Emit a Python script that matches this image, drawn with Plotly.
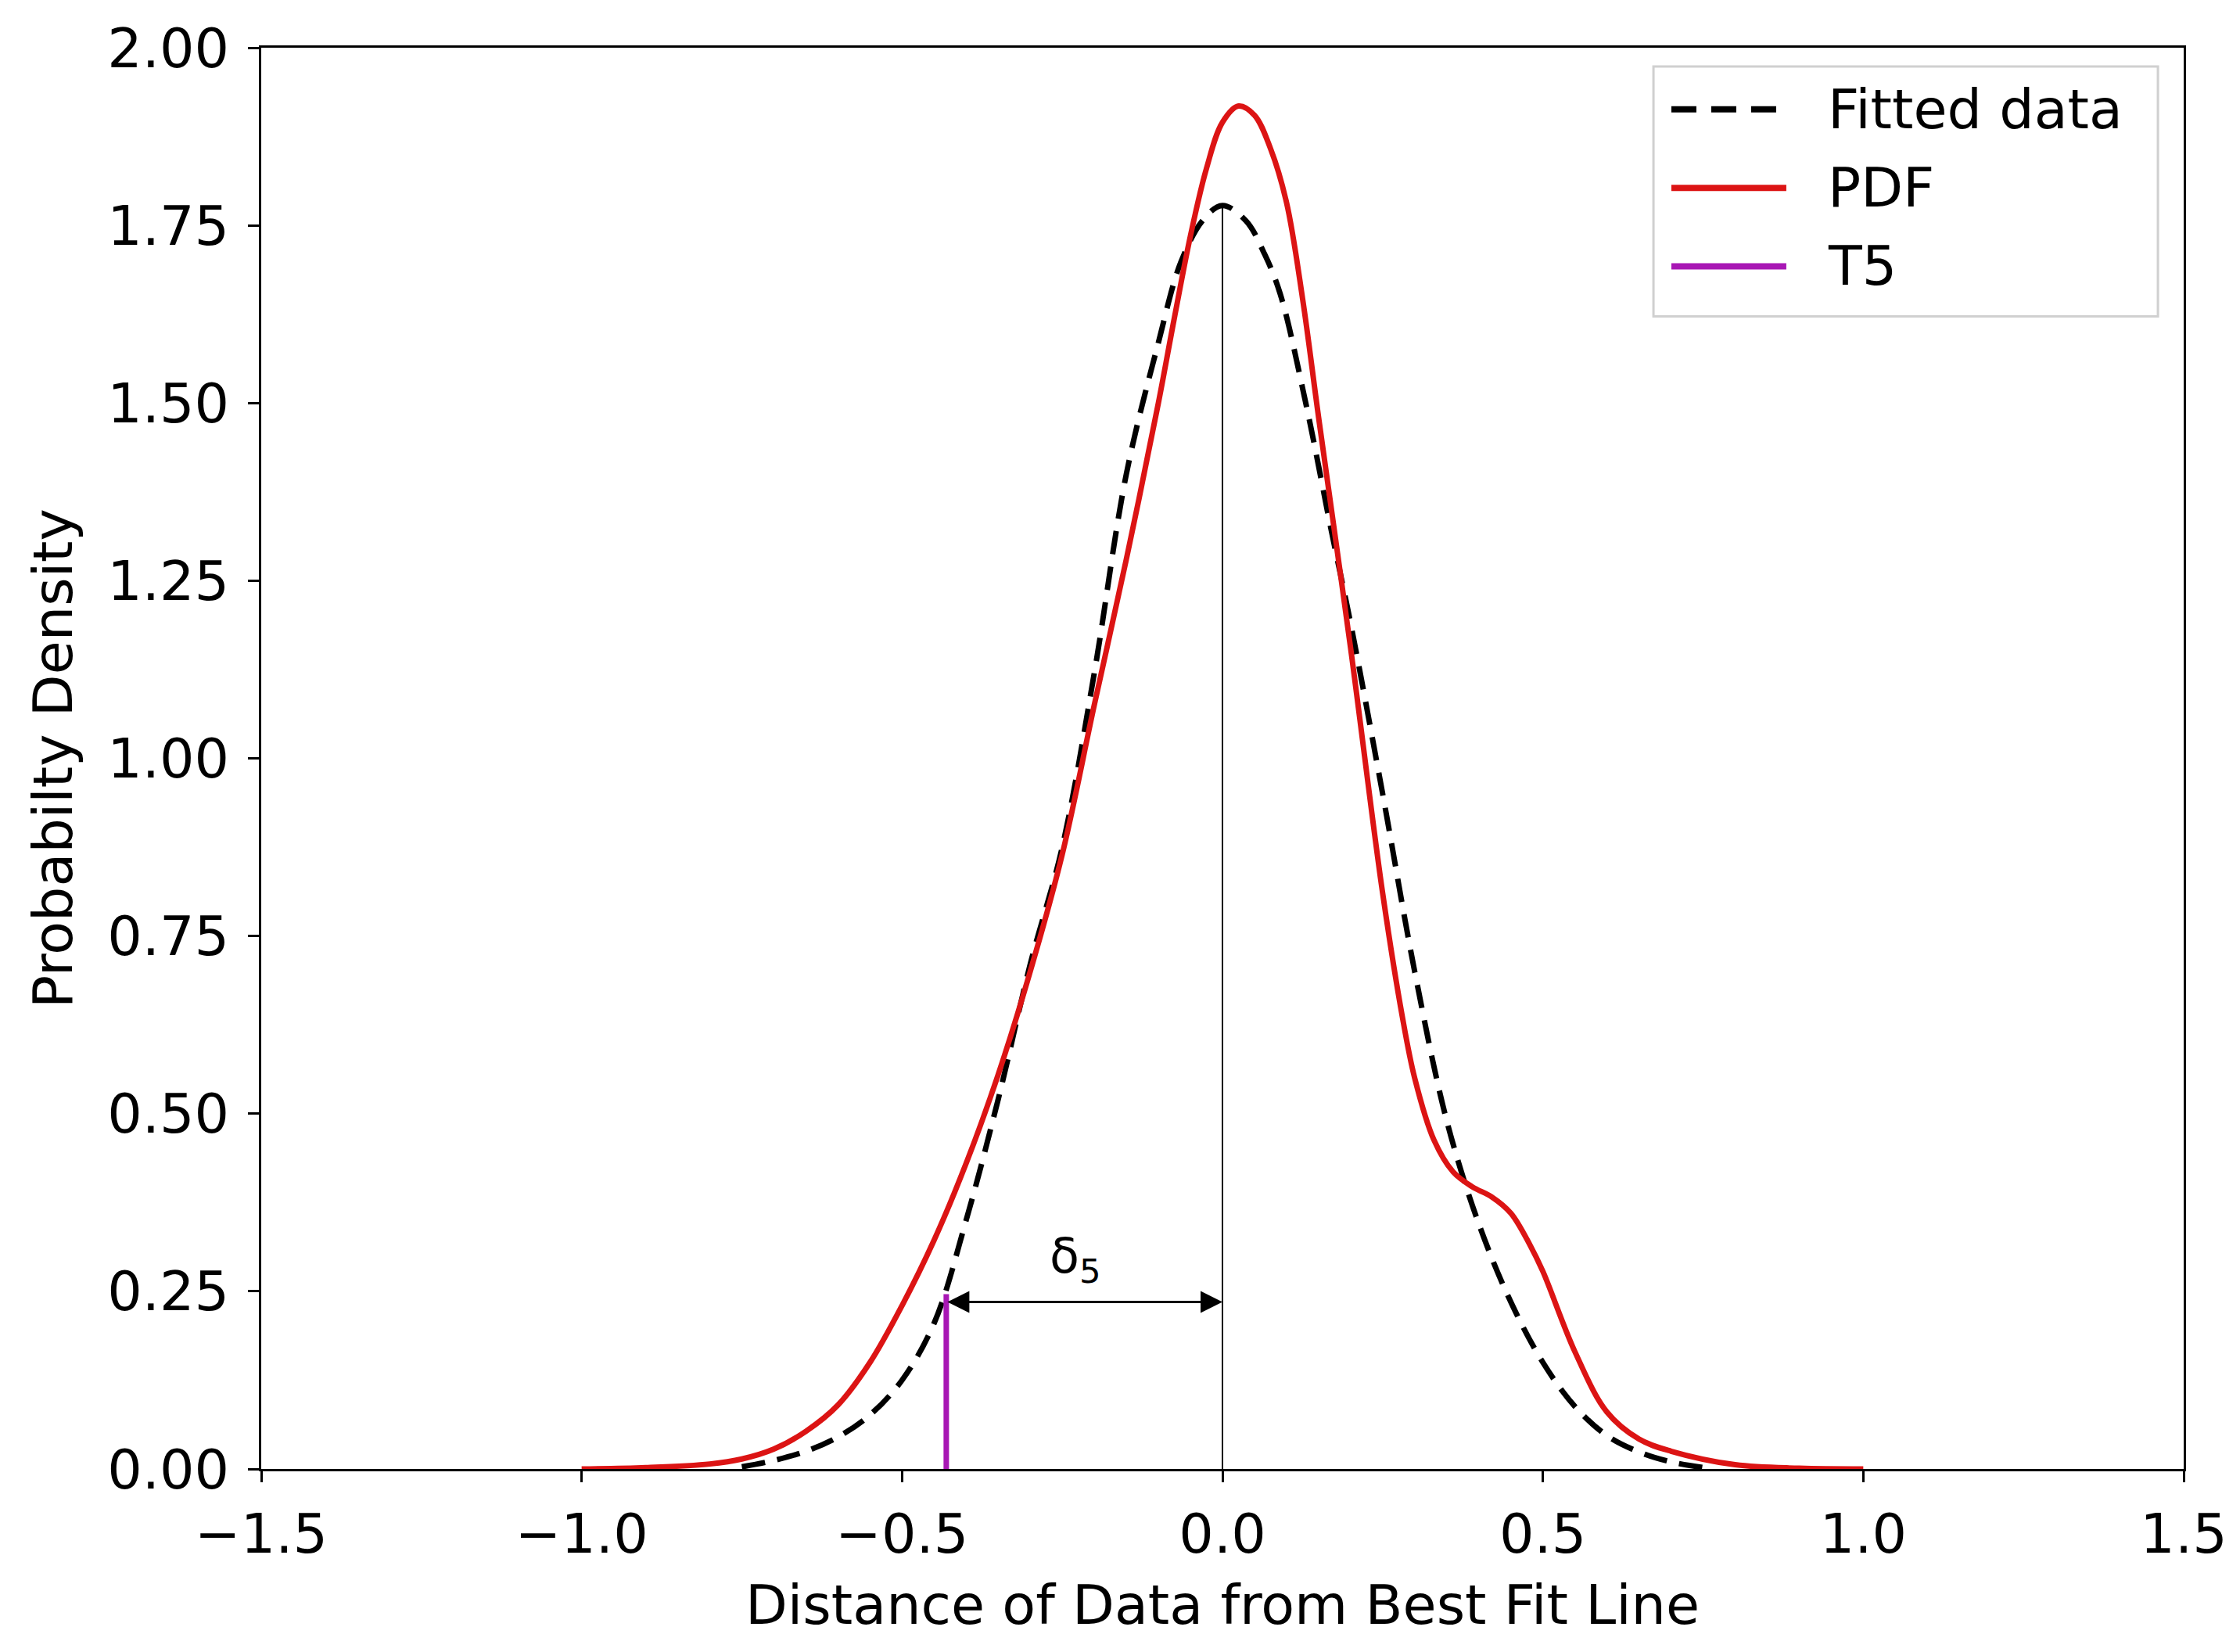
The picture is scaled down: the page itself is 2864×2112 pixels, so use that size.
import plotly.graph_objects as go

# values
pdf_x = [-1.0, -0.9, -0.8, -0.75, -0.7, -0.65, -0.6, -0.55, -0.5, -0.45, -0.4, -0.35,
         -0.3, -0.25, -0.2, -0.15, -0.1, -0.075, -0.05, -0.025, 0.0, 0.025, 0.05, 0.075,
         0.1, 0.125, 0.15, 0.2, 0.25, 0.28, 0.3, 0.33, 0.36, 0.39, 0.42, 0.45, 0.48, 0.5,
         0.55, 0.6, 0.65, 0.7, 0.8, 0.9, 1.0]
pdf_y = [0.0, 0.002, 0.007, 0.014, 0.028, 0.053, 0.090, 0.150, 0.230, 0.322, 0.43, 0.555,
         0.70, 0.865, 1.075, 1.28, 1.50, 1.62, 1.735, 1.83, 1.895, 1.918, 1.905, 1.858,
         1.782, 1.647, 1.48, 1.155, 0.81, 0.64, 0.55, 0.463, 0.418, 0.397, 0.383, 0.36,
         0.315, 0.278, 0.165, 0.08, 0.042, 0.025, 0.006, 0.001, 0.0]

fit_x = [-0.75, -0.7, -0.65, -0.6, -0.55, -0.5, -0.45, -0.4, -0.35, -0.3, -0.25, -0.2,
         -0.15, -0.1, -0.065, -0.03, 0.0, 0.037, 0.066, 0.09, 0.13, 0.17, 0.2, 0.25, 0.3,
         0.35, 0.4, 0.45, 0.5, 0.55, 0.6, 0.65, 0.7, 0.75]
fit_y = [0.003, 0.012, 0.025, 0.045, 0.076, 0.125, 0.205, 0.35, 0.52, 0.71, 0.875, 1.12,
         1.40, 1.585, 1.698, 1.758, 1.778, 1.756, 1.709, 1.654, 1.50, 1.32, 1.19, 0.95,
         0.70, 0.49, 0.345, 0.235, 0.15, 0.088, 0.047, 0.024, 0.01, 0.002]

t5_x = -0.431
t5_top = 0.246
peak_fit = 1.778
delta_y = 0.235

series_names = ["Fitted data", "PDF", "T5"]

x_ticks = [-1.5, -1.0, -0.5, 0.0, 0.5, 1.0, 1.5]
x_labels = ["\u22121.5", "\u22121.0", "\u22120.5", "0.0", "0.5", "1.0", "1.5"]
y_ticks = [0.0, 0.25, 0.5, 0.75, 1.0, 1.25, 1.5, 1.75, 2.0]
y_labels = ["0.00", "0.25", "0.50", "0.75", "1.00", "1.25", "1.50", "1.75", "2.00"]

RED = "#dc1414"
PURPLE = "#a817b4"
FONT = "DejaVu Sans"
FS = 70
DASH = "30px,16px"
LW = 7

fig = go.Figure()

# thin centre line at zero
fig.add_trace(go.Scatter(x=[0.0, 0.0], y=[0.0, peak_fit], mode="lines",
                         line=dict(color="black", width=2), showlegend=False,
                         hoverinfo="skip"))

fig.add_trace(go.Scatter(x=fit_x, y=fit_y, mode="lines", name=series_names[0],
                         line=dict(color="black", width=LW, dash=DASH,
                                   shape="spline", smoothing=1.0)))
fig.add_trace(go.Scatter(x=pdf_x, y=pdf_y, mode="lines", name=series_names[1],
                         line=dict(color=RED, width=LW, shape="spline", smoothing=1.0)))
fig.add_trace(go.Scatter(x=[t5_x, t5_x], y=[0.0, t5_top], mode="lines",
                         name=series_names[2], line=dict(color=PURPLE, width=LW)))

# double-headed arrow for delta_5
fig.add_annotation(x=0.0, y=delta_y, ax=t5_x, ay=delta_y, xref="x", yref="y",
                   axref="x", ayref="y", text="", showarrow=True,
                   arrowhead=2, startarrowhead=2, arrowside="end+start",
                   arrowwidth=2.8, arrowsize=2.0, startarrowsize=2.0,
                   arrowcolor="black", standoff=0, startstandoff=0)
fig.add_annotation(x=-0.23, y=delta_y + 0.06, xref="x", yref="y",
                   text="\u03b4<sub>5</sub>", showarrow=False,
                   font=dict(family=FONT, size=62, color="black"))

# legend box drawn by hand, matplotlib style
lg_x0, lg_x1, lg_y0, lg_y1 = 0.7242, 0.9866, 0.811, 0.9868
row_y = [0.9566, 0.9014, 0.8462]
line_x0, line_x1, text_x = 0.7335, 0.7933, 0.814
styles = [dict(color="black", width=LW + 1, dash="32px,19px"),
          dict(color=RED, width=LW + 1), dict(color=PURPLE, width=LW + 1)]
fig.add_shape(type="rect", xref="paper", yref="paper", x0=lg_x0, x1=lg_x1,
              y0=lg_y0, y1=lg_y1, line=dict(color="#d0d0d0", width=3),
              fillcolor="white", layer="above")
for name, ry, st in zip(series_names, row_y, styles):
    fig.add_shape(type="line", xref="paper", yref="paper", x0=line_x0, x1=line_x1,
                  y0=ry, y1=ry, line=st, layer="above")
    fig.add_annotation(x=text_x, y=ry, xref="paper", yref="paper", text=name,
                       showarrow=False, xanchor="left", yanchor="middle",
                       font=dict(family=FONT, size=FS, color="black"))

axis_common = dict(showline=True, linecolor="black", linewidth=3, mirror=True,
                   ticks="outside", ticklen=14, tickwidth=3, tickcolor="black",
                   showgrid=False, zeroline=False,
                   tickfont=dict(family=FONT, size=FS, color="black"))

fig.update_layout(
    width=2864, height=2112,
    margin=dict(l=326, r=80, t=50, b=242),
    plot_bgcolor="white", paper_bgcolor="white",
    showlegend=False,
    xaxis=dict(range=[-1.5, 1.5], tickvals=x_ticks, ticktext=x_labels,
               ticklabelstandoff=6,
               title=dict(text="Distance of Data from Best Fit Line", standoff=26,
                          font=dict(family=FONT, size=FS, color="black")),
               **axis_common),
    yaxis=dict(range=[0.0, 2.0], tickvals=y_ticks, ticktext=y_labels,
               ticklabelstandoff=10,
               title=dict(text="Probabilty Density", standoff=22,
                          font=dict(family=FONT, size=FS, color="black")),
               **axis_common),
)

fig.write_html("out.html")
